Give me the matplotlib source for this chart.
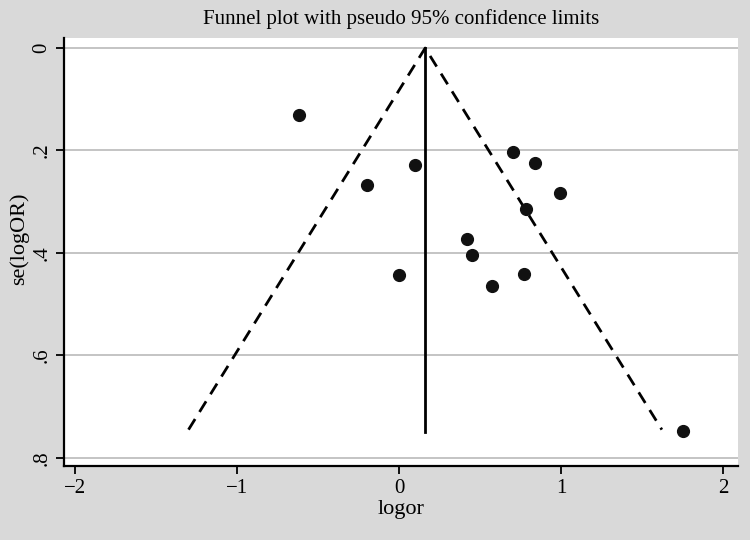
import numpy as np
import matplotlib
matplotlib.use("Agg")
import matplotlib.pyplot as plt

# study estimates
logor = [-0.62, 0.10, -0.20, 0.70, 0.84, 0.99, 0.78, 0.42, 0.45, 0.00, 0.77, 0.57, 1.75]
se_logor = [0.131, 0.228, 0.268, 0.203, 0.224, 0.283, 0.315, 0.372, 0.405, 0.444, 0.442, 0.464, 0.748]

pooled = 0.16      # fixed-effect pooled logOR (vertical line)
se_max = 0.745     # funnel drawn down to this se
z95 = 1.96

xticks = [-2, -1, 0, 1, 2]
yticks = [0, 0.2, 0.4, 0.6, 0.8]
ytick_labels = ["0", ".2", ".4", ".6", ".8"]

plt.rcParams["font.family"] = ["Liberation Serif", "DejaVu Serif"]

fig = plt.figure(figsize=(7.5, 5.4), dpi=100, facecolor="#d9d9d9")
ax = fig.add_axes([0.085, 0.137, 0.899, 0.793])
ax.set_facecolor("white")

# pseudo 95% confidence limits
ax.plot([pooled - z95 * se_max, pooled, pooled + z95 * se_max], [se_max, 0, se_max],
        color="black", linestyle=(0, (4.5, 3)), linewidth=2, zorder=3)
ax.plot([pooled, pooled], [0, se_max + 0.005], color="black", linewidth=2, zorder=3)

ax.scatter(logor, se_logor, s=72, color="#111111", zorder=4)

ax.set_xlim(-2.07, 2.09)
ax.set_ylim(0.816, -0.02)
ax.set_xticks(xticks)
ax.set_xticklabels(["\u22122", "\u22121", "0", "1", "2"])
ax.set_yticks(yticks)
ax.set_yticklabels(ytick_labels, rotation=90, va="center")
ax.tick_params(axis="both", labelsize=15, length=6, width=1.3, color="black", pad=3)

ax.grid(axis="y", color="#c4c4c4", linewidth=1.4)
ax.set_axisbelow(True)
for side in ["top", "right"]:
    ax.spines[side].set_visible(False)
for side in ["left", "bottom"]:
    ax.spines[side].set_linewidth(1.6)

ax.set_xlabel("logor", fontsize=16, labelpad=2)
ax.set_ylabel("se(logOR)", fontsize=16, labelpad=2)
ax.yaxis.set_label_coords(-0.052, 0.53)
fig.text(0.535, 0.965, "Funnel plot with pseudo 95% confidence limits",
         ha="center", va="center", fontsize=15)

plt.savefig("out.png", dpi=100, facecolor=fig.get_facecolor())
